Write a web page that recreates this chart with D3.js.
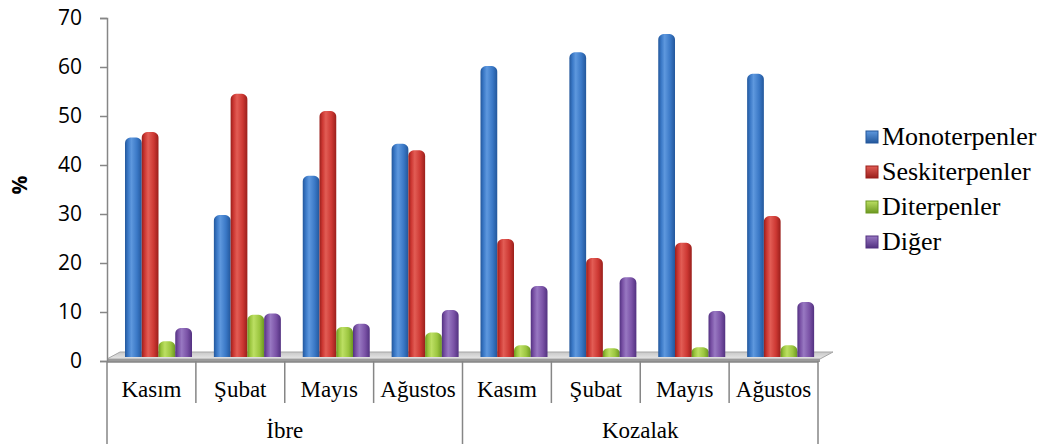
<!DOCTYPE html>
<html>
<head>
<meta charset="utf-8">
<script src="https://cdn.jsdelivr.net/npm/d3@7"></script>
<style>
  html, body { margin: 0; padding: 0; background: #ffffff; }
  svg { display: block; }
  .serif { font-family: "Liberation Serif", "Times New Roman", Tinos, "DejaVu Serif", serif; }
  .sans { font-family: "Open Sans", "Liberation Sans", sans-serif; }
</style>
</head>
<body>
<svg id="chart" width="1049" height="444"></svg>
<script>
// ---- data ----
const groups = ["İbre", "Kozalak"];
const months = ["Kasım", "Şubat", "Mayıs", "Ağustos"];
const seriesNames = ["Monoterpenler", "Seskiterpenler", "Diterpenler", "Diğer"];
const monoterpenler  = [44.8, 29.0, 37.0, 43.5, 59.4, 62.2, 65.9, 57.8];
const seskiterpenler = [45.9, 53.7, 50.2, 42.2, 24.1, 20.2, 23.3, 28.8];
const diterpenler    = [3.2, 8.6, 6.1, 5.0, 2.4, 1.8, 2.0, 2.4];
const diger          = [5.9, 8.9, 6.8, 9.6, 14.5, 16.3, 9.4, 11.2];
const yTicks = [0, 10, 20, 30, 40, 50, 60, 70];

const seriesValues = [monoterpenler, seskiterpenler, diterpenler, diger];
const categories = [];
groups.forEach((g, gi) => months.forEach((m, mi) => categories.push({ id: gi * 4 + mi, group: g, month: m })));

// ---- layout ----
const svg = d3.select("#chart");
const plotLeft = 107, plotRight = 818, plotTop = 18, axisY = 361;
const depthX = 13, depthY = 9;

const x = d3.scaleBand().domain(categories.map(c => c.id)).range([plotLeft, plotRight]).padding(0);
const xs = d3.scaleBand().domain(d3.range(seriesNames.length)).range([18, 85]).padding(0);
const y = d3.scaleLinear().domain([0, 70]).range([axisY, plotTop]);

const palettes = [
  { dark: "#23579b", mid: "#3a78c6", light: "#5e98de" },
  { dark: "#9a1f1b", mid: "#cd3833", light: "#e25d55" },
  { dark: "#6c9821", mid: "#9cc640", light: "#bcdf63" },
  { dark: "#523180", mid: "#7a52a6", light: "#9878c2" }
];

const defs = svg.append("defs");
palettes.forEach((p, i) => {
  const g = defs.append("linearGradient").attr("id", "grad" + i).attr("x1", "0").attr("x2", "1").attr("y1", "0").attr("y2", "0");
  g.append("stop").attr("offset", "0%").attr("stop-color", p.dark);
  g.append("stop").attr("offset", "18%").attr("stop-color", p.mid);
  g.append("stop").attr("offset", "38%").attr("stop-color", p.light);
  g.append("stop").attr("offset", "72%").attr("stop-color", p.mid);
  g.append("stop").attr("offset", "100%").attr("stop-color", p.dark);
  const lg = defs.append("linearGradient").attr("id", "leg" + i).attr("x1", "0").attr("x2", "0").attr("y1", "0").attr("y2", "1");
  lg.append("stop").attr("offset", "0%").attr("stop-color", p.light);
  lg.append("stop").attr("offset", "100%").attr("stop-color", p.dark);
});
const floorGrad = defs.append("linearGradient").attr("id", "floorGrad").attr("x1", "0").attr("x2", "0").attr("y1", "0").attr("y2", "1");
floorGrad.append("stop").attr("offset", "0%").attr("stop-color", "#c8c8c8");
floorGrad.append("stop").attr("offset", "100%").attr("stop-color", "#e6e6e6");

// ---- floor ----
const fy0 = y(0);
svg.append("polygon")
  .attr("points", [[plotLeft + depthX, fy0 - depthY], [plotRight + depthX + 2, fy0 - depthY], [plotRight + 2, fy0 - 2], [plotLeft, fy0 - 2]].map(p => p.join(",")).join(" "))
  .attr("fill", "url(#floorGrad)").attr("stroke", "#a6a6a6").attr("stroke-width", 1);
svg.append("polygon")
  .attr("points", [[plotLeft, fy0 - 2], [plotRight + 2, fy0 - 2], [plotRight + 2, fy0 + 1], [plotLeft, fy0 + 1]].map(p => p.join(",")).join(" "))
  .attr("fill", "#9a9a9a");

// ---- bars ----
function barPath(x0, w, yTop, yBot) {
  const rx = Math.min(7, w / 2), ry = Math.min(6, (yBot - yTop) / 2);
  return `M${x0},${yBot} L${x0},${yTop + ry} C${x0},${yTop + ry * 0.3} ${x0 + rx * 0.4},${yTop} ${x0 + rx},${yTop} L${x0 + w - rx},${yTop} C${x0 + w - rx * 0.4},${yTop} ${x0 + w},${yTop + ry * 0.3} ${x0 + w},${yTop + ry} L${x0 + w},${yBot} Z`;
}
const barLift = 4;
seriesValues.forEach((vals, si) => {
  svg.append("g").selectAll("path").data(categories).join("path")
    .attr("d", c => barPath(x(c.id) + xs(si), xs.bandwidth(), y(vals[c.id]) - barLift, y(0) - barLift))
    .attr("fill", "url(#grad" + si + ")");
});

// ---- y axis ----
const yAxis = d3.axisLeft(y).tickValues(yTicks).tickSize(7).tickPadding(18).tickFormat(d3.format("d"));
const yg = svg.append("g").attr("transform", `translate(${plotLeft},0)`).call(yAxis);
yg.attr("font-family", null).attr("font-size", null);
yg.select(".domain").attr("stroke", "#868686").attr("stroke-width", 1.5);
yg.selectAll(".tick line").attr("stroke", "#868686").attr("stroke-width", 1.5);
yg.selectAll(".tick text").attr("class", "sans").style("font-size", "21px").attr("fill", "#000");

svg.append("text").attr("class", "sans").attr("transform", "translate(19,185) rotate(-90)")
  .attr("text-anchor", "middle").attr("dominant-baseline", "central")
  .style("font-weight", "bold").style("font-size", "21px")
  .text("%");

// ---- category axis ----
const ax = svg.append("g");
ax.append("line").attr("x1", plotLeft).attr("x2", plotRight).attr("y1", axisY + 1).attr("y2", axisY + 1).attr("stroke", "#868686").attr("stroke-width", 1.5);
categories.forEach(c => {
  const xl = x(c.id);
  const isGroupStart = c.id % 4 === 0;
  ax.append("line").attr("x1", xl).attr("x2", xl).attr("y1", axisY).attr("y2", isGroupStart ? 444 : 403).attr("stroke", "#868686").attr("stroke-width", 1.5);
});
ax.append("line").attr("x1", plotRight).attr("x2", plotRight).attr("y1", axisY).attr("y2", 444).attr("stroke", "#868686").attr("stroke-width", 1.5);

svg.append("g").selectAll("text").data(categories).join("text")
  .attr("class", "serif")
  .attr("x", c => x(c.id) + x.bandwidth() / 2).attr("y", 397)
  .attr("text-anchor", "middle").style("font-size", "23px")
  .text(c => c.month);

svg.append("g").selectAll("text").data(groups).join("text")
  .attr("class", "serif")
  .attr("x", (g, gi) => (x(gi * 4) + x(gi * 4 + 3) + x.bandwidth()) / 2).attr("y", 438)
  .attr("text-anchor", "middle").style("font-size", "23px")
  .text(g => g);

// ---- legend ----
const legend = svg.append("g");
seriesNames.forEach((name, i) => {
  const by = 145 + i * 35;
  legend.append("rect").attr("x", 866).attr("y", by - 14).attr("width", 12).attr("height", 12)
    .attr("fill", "url(#leg" + i + ")").attr("stroke", palettes[i].dark).attr("stroke-width", 1);
  legend.append("text").attr("class", "serif").attr("x", 882).attr("y", by)
    .style("font-size", "26px")
    .text(name);
});
</script>
</body>
</html>
